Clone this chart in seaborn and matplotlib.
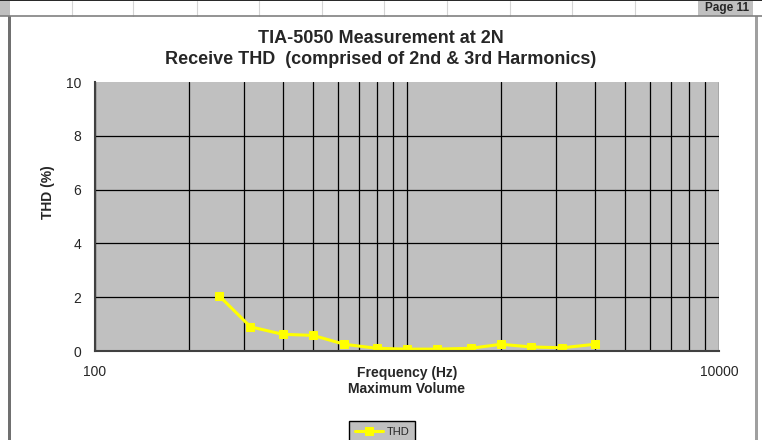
import numpy as np
import matplotlib
matplotlib.use("Agg")
import matplotlib.pyplot as plt
import seaborn as sns
from matplotlib.patches import Rectangle
from matplotlib.lines import Line2D
from matplotlib.ticker import FixedLocator, NullFormatter, MultipleLocator

# data (1/3 octave bands)
freq_hz = [250, 315, 400, 500, 630, 800, 1000, 1250, 1600, 2000, 2500, 3150, 4000]
thd_pct = [2.05, 0.90, 0.62, 0.58, 0.25, 0.10, 0.07, 0.07, 0.10, 0.25, 0.15, 0.12, 0.25]
x_ticks = [100, 10000]
x_tick_labels = ["100", "10000"]
y_ticks = [0, 2, 4, 6, 8, 10]

W, H = 762, 440

sns.set_style("white")
plt.rcParams['font.family'] = ['Liberation Sans', 'DejaVu Sans']

fig = plt.figure(figsize=(W / 100, H / 100), dpi=100)


def fx(x):
    return x / W


def fy(y):
    return 1 - y / H


def box(x0, y0, x1, y1, **kw):
    fig.add_artist(Rectangle((fx(x0), fy(y1)), fx(x1) - fx(x0), fy(y0) - fy(y1),
                             transform=fig.transFigure, **kw))


# spreadsheet frame around the chart
box(0, 0, W, 16, facecolor='white', edgecolor='none')
fig.add_artist(Line2D([0, 1], [fy(0.5), fy(0.5)], transform=fig.transFigure, color='black', lw=1.2))
box(0, 1, 10, 16, facecolor='#c0c0c0', edgecolor='none')
for cx in [72, 133, 197, 259, 322, 384, 447, 510, 572, 635]:
    fig.add_artist(Line2D([fx(cx), fx(cx)], [fy(1), fy(16)], transform=fig.transFigure,
                          color='#d4d4d4', lw=0.8))
box(698, 1, 753, 16, facecolor='#c0c0c0', edgecolor='none')
fig.text(fx(749), fy(8.5), "Page 11", ha='right', va='center', fontsize=8.5, fontweight='bold')
fig.add_artist(Line2D([0, 1], [fy(16.5), fy(16.5)], transform=fig.transFigure, color='#808080', lw=1.2))
box(8, 16, 11, H, facecolor='#707070', edgecolor='none')
box(755, 16, 758, H, facecolor='#a0a0a0', edgecolor='none')

# titles
fig.text(0.5, fy(38), "TIA-5050 Measurement at 2N", ha='center', va='center',
         fontsize=13, fontweight='bold')
fig.text(0.5, fy(60), "Receive THD  (comprised of 2nd & 3rd Harmonics)", ha='center', va='center',
         fontsize=13, fontweight='bold')

# plot area
ax = fig.add_axes([fx(95), fy(351), fx(719) - fx(95), fy(82) - fy(351)])
ax.set_facecolor('#c0c0c0')
sns.lineplot(x=freq_hz, y=thd_pct, ax=ax, color='#ffff00', linewidth=2.2, marker='s',
             markersize=5.5, markeredgecolor='#ffff00', label='THD')

ax.set_xscale('log')
ax.set_xlim(100, 10000)
ax.set_ylim(0, 10)
ax.xaxis.set_major_locator(FixedLocator(x_ticks))
ax.set_xticklabels(x_tick_labels)
minor_x = [m * d for d in [100, 1000] for m in range(2, 10)] + [1000]
ax.xaxis.set_minor_locator(FixedLocator(minor_x))
ax.xaxis.set_minor_formatter(NullFormatter())
ax.set_yticks(y_ticks)
ax.yaxis.set_minor_locator(MultipleLocator(0.5))

ax.grid(True, which='major', axis='y', color='black', lw=0.9)
ax.grid(True, which='both', axis='x', color='black', lw=0.9)
ax.set_axisbelow(True)
ax.get_ygridlines()[-1].set_visible(False)

for side in ['top', 'right']:
    ax.spines[side].set_visible(False)
for side in ['left', 'bottom']:
    ax.spines[side].set_color('#404040')
    ax.spines[side].set_linewidth(1.5)

ax.tick_params(axis='x', which='both', length=0, pad=10, labelsize=10)
ax.tick_params(axis='y', which='major', direction='in', length=4, pad=10, labelsize=10, color='#404040')
ax.tick_params(axis='y', which='minor', direction='in', length=3, color='#404040')

ax.set_xlabel("Frequency (Hz)\nMaximum Volume", fontsize=10, fontweight='bold',
              linespacing=1.15)
ax.xaxis.set_label_coords(0.5, -15 / 269)
ax.set_ylabel("THD (%)", fontsize=10, fontweight='bold')
ax.yaxis.set_label_coords(-40 / 624, 0.59)

ax.legend(loc='upper left', bbox_to_anchor=(fx(349), fy(421)), bbox_transform=fig.transFigure,
          frameon=True, facecolor='#c0c0c0', edgecolor='black', fancybox=False, framealpha=1,
          fontsize=8, handlelength=2.6, handletextpad=0.3, borderpad=0.5, borderaxespad=0)

fig.savefig("out.png", dpi=100)
